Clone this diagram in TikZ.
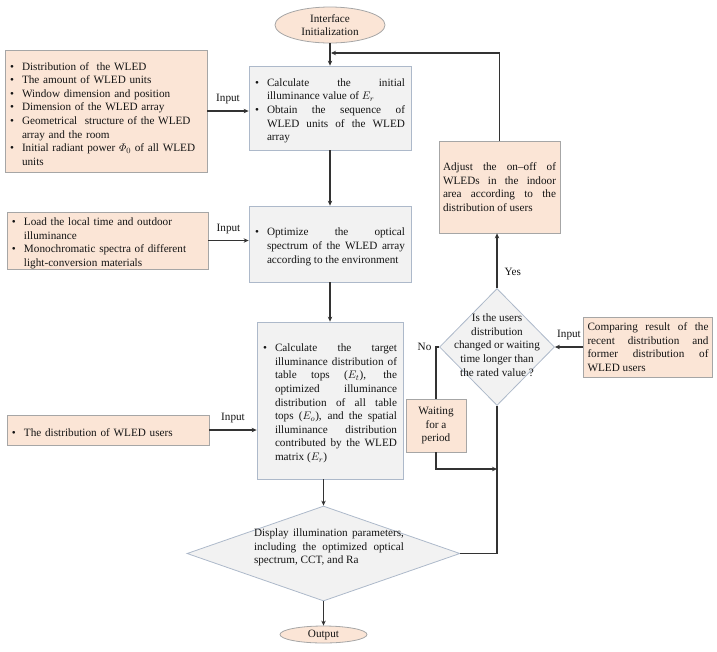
\documentclass[tikz,border=0pt]{standalone}
\usepackage{amsmath}
\usepackage{fontspec}
\setmainfont{Liberation Serif}
\usepackage{enumitem}
\usetikzlibrary{shapes.geometric,arrows.meta}
\definecolor{vpeach}{HTML}{FBE5D6}
\definecolor{vlightgray}{HTML}{F2F2F2}
\definecolor{vpeachedge}{HTML}{A6A6A6}
\definecolor{vgrayedge}{HTML}{ADB9CA}
\definecolor{vdarkgray}{HTML}{333333}
\setlist[itemize]{label=\textbullet,leftmargin=12pt,labelwidth=6pt,labelsep=6pt,labelindent=0pt,align=left,nosep}

\begin{document}
\begin{tikzpicture}[x=1pt,y=-1pt,
		txt/.style={font=\fontsize{11.2}{13.6}\selectfont, text=black!92},
		inbox/.style={txt, rectangle, draw=vpeachedge, fill=vpeach, line width=0.8pt, inner xsep=5pt, inner ysep=0pt, align=left},
		stepbox/.style={txt, rectangle, draw=vgrayedge, fill=vlightgray, line width=0.8pt, inner xsep=6pt, inner ysep=0pt, align=justify},
		peachbox/.style={txt, rectangle, draw=vpeachedge, fill=vpeach, line width=0.8pt, inner xsep=4pt, inner ysep=0pt},
		term/.style={txt, ellipse, draw=vpeachedge, fill=vpeach, line width=0.8pt, inner sep=0pt, align=center},
		choice/.style={diamond, draw=vgrayedge, fill=vlightgray, line width=0.8pt, inner sep=0pt},
		link/.style={draw=vdarkgray, line width=1.3pt},
		arr/.style={link, -{Stealth[length=5pt,width=4.5pt]}},
		lbl/.style={txt, inner sep=1pt}]
		\useasboundingbox (0,0) rectangle (717,651);

		\node[term, minimum width=110pt, minimum height=36pt] (init) at (330,25) {Interface\\[-1pt]Initialization};
		\node[stepbox, text width=150pt, minimum height=84pt] (calc) at (330,108) {\begin{itemize}
			\item Calculate the initial\linebreak illuminance value of $E_r$
			\item Obtain the sequence of\linebreak WLED units of the WLED\linebreak array
		\end{itemize}};
		\node[stepbox, text width=150pt, minimum height=76pt] (optim) at (330,244) {\begin{itemize}
			\item Optimize the optical\linebreak spectrum of the WLED array\linebreak according to the environment
		\end{itemize}};
		\node[stepbox, text width=134pt, minimum height=157pt] (target) at (330,400.5) {\begin{itemize}
			\item Calculate the target\linebreak illuminance distribution of\linebreak table tops ($E_t$), the\linebreak optimized illuminance\linebreak distribution of all table\linebreak tops ($E_o$), and the spatial\linebreak illuminance distribution\linebreak contributed by the WLED\linebreak matrix ($E_r$)
		\end{itemize}};

		\node[inbox, text width=192pt, minimum height=122pt] (layout) at (106,111) {\begin{itemize}
			\item Distribution of\ \ the WLED
			\item The amount of WLED units
			\item Window dimension and position
			\item Dimension of the WLED array
			\item Geometrical\ \ structure of the WLED\newline array and the room
			\item Initial radiant power $\varPhi_0$ of all WLED\newline units
		\end{itemize}};
		\node[inbox, text width=191pt, minimum height=55pt] (ambient) at (107.5,240.5) {\begin{itemize}
			\item Load the local time and outdoor\newline illuminance
			\item Monochromatic spectra of different\newline light-conversion materials
		\end{itemize}};
		\node[inbox, text width=192pt, minimum height=30pt] (users) at (108,430) {\begin{itemize}
			\item The distribution of WLED users
		\end{itemize}};

		\node[choice, minimum width=273pt, minimum height=95pt] (disp) at (323.5,553.5) {};
		\node[txt, align=justify, text width=150pt] (disptxt) at (329,547.5) {Display illumination parameters,\linebreak including the optimized optical\linebreak spectrum, CCT, and Ra};
		\node[term, minimum width=87pt, minimum height=17pt] (out) at (323.5,634.5) {Output};

		\node[choice, minimum width=115pt, minimum height=117pt] (check) at (497,347) {};
		\node[txt, align=center, inner sep=0pt] (checktxt) at (497,345) {Is the users\\distribution\\changed or waiting\\time longer than\\the rated value ?};
		\node[peachbox, text width=113pt, minimum height=92pt, align=justify] (adjust) at (499.5,187) {Adjust the on--off of\linebreak WLEDs in the indoor\linebreak area according to the\linebreak distribution of users};
		\node[peachbox, text width=121pt, minimum height=60pt, align=justify] (compare) at (648,347) {Comparing result of the\linebreak recent distribution and\linebreak former distribution of\linebreak WLED users};
		\node[peachbox, inner sep=0pt, minimum width=60pt, minimum height=53pt, align=center] (wait) at (436,425.5) {Waiting\\for a\\period};

		\coordinate (top join) at (331,53);
		\coordinate (rejoin) at (497,469);

		\draw[arr] (init) -- (calc);
		\draw[arr] (calc) -- (optim);
		\draw[arr] (optim) -- (target);
		\draw[arr] (target.south -| disp.north) -- (disp.north);
		\draw[arr] (disp) -- (out);
		\draw[arr] (layout.east) -- (layout.east -| calc.west) node[lbl, midway, above=5pt] {Input};
		\draw[arr] (ambient.east) -- (ambient.east -| optim.west) node[lbl, midway, above=5pt] {Input};
		\draw[arr] (users.east) -- (users.east -| target.west) node[lbl, midway, above=5pt] {Input};
		\draw[arr] (compare.west) -- (check.east) node[lbl, midway, above=5pt] {Input};
		\draw[arr] (check.north) -- (check.north |- adjust.south) node[lbl, pos=0.29, right=6pt] {Yes};
		\draw[arr] (adjust.north) |- (top join);
		\draw[link] (check.west) -| (wait.north) node[lbl, pos=0.5, left=3pt] {No};
		\draw[arr] (wait.south) |- (rejoin);
		\draw[link] (disp.east) -| (check.south);
	\end{tikzpicture}
\end{document}
